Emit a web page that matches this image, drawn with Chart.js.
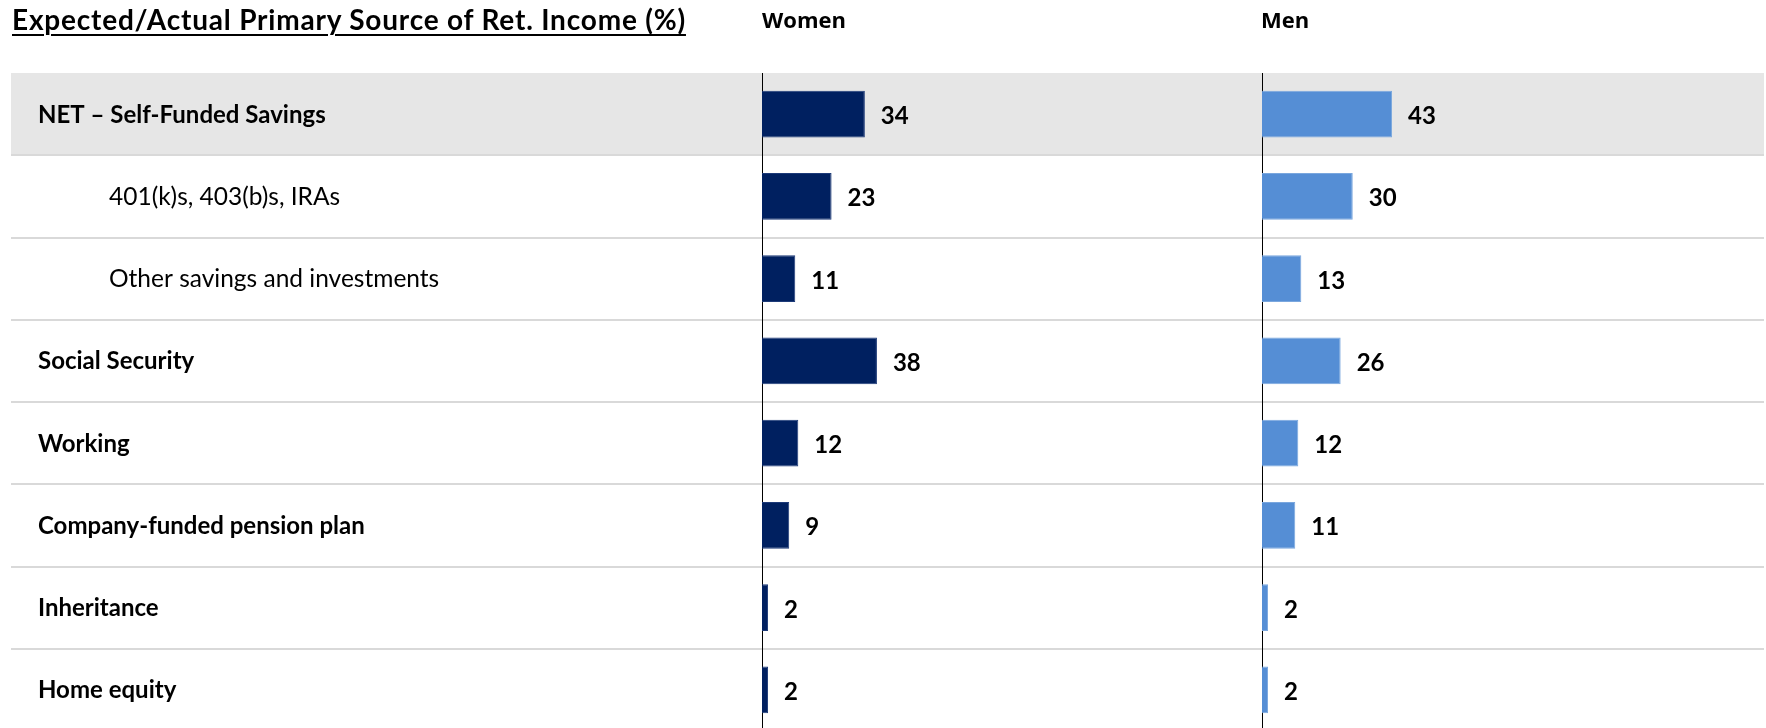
<!DOCTYPE html>
<html>
<head>
<meta charset="utf-8">
<title>Expected/Actual Primary Source of Ret. Income</title>
<script src="https://cdn.jsdelivr.net/npm/chart.js@4.4.1/dist/chart.umd.min.js"></script>
<style>
  html, body { margin: 0; padding: 0; background: #fff; }
  #wrap { position: relative; width: 1766px; height: 728px; overflow: hidden; }
  #chart { position: absolute; left: 0; top: 0; }
  .hdr { position: absolute; color: #000; font-weight: bold; white-space: nowrap; line-height: 1; }
  #title { left: 12px; top: 5px; font-family: Lato, sans-serif; font-size: 28px; letter-spacing: 0.8px;
           text-decoration: underline; text-decoration-thickness: 2px; text-underline-offset: 4px; }
  #women { left: 762px; top: 8px; font-family: "Open Sans", sans-serif; font-size: 22px; }
  #men { left: 1261px; top: 8px; font-family: "Open Sans", sans-serif; font-size: 22px; }
</style>
</head>
<body>
<div id="wrap">
  <canvas id="chart" width="1766" height="731"></canvas>
  <div class="hdr" id="title">Expected/Actual Primary Source of Ret. Income (%)</div>
  <div class="hdr" id="women">Women</div>
  <div class="hdr" id="men">Men</div>
</div>
<script>
'use strict';

// categories, top to bottom
var categories = [
  'NET – Self-Funded Savings',
  '401(k)s, 403(b)s, IRAs',
  'Other savings and investments',
  'Social Security',
  'Working',
  'Company-funded pension plan',
  'Inheritance',
  'Home equity'
];
// sub rows are indented and not bold
var subRows = [false, true, true, false, false, false, false, false];

var womenValues = [34, 23, 11, 38, 12, 9, 2, 2];
var menValues = [43, 30, 13, 26, 12, 11, 2, 2];

var FONT = 'Lato, sans-serif';

/* row bands, separators, zero lines, row labels and value labels */
var rowDecor = {
  id: 'rowDecor',
  beforeDatasetsDraw: function (chart) {
    var ctx = chart.ctx;
    var area = chart.chartArea;
    var y = chart.scales.y;
    var half = (y.getPixelForValue(1) - y.getPixelForValue(0)) / 2;
    var left = 11;

    ctx.save();
    // grey band behind the NET row
    ctx.fillStyle = '#e6e6e6';
    ctx.fillRect(left, y.getPixelForValue(0) - half, area.right - left, half * 2);

    // separators between rows
    ctx.strokeStyle = '#d9d9d9';
    ctx.lineWidth = 2;
    for (var i = 0; i < categories.length - 1; i++) {
      var yy = Math.round(y.getPixelForValue(i) + half);
      ctx.beginPath();
      ctx.moveTo(left, yy);
      ctx.lineTo(area.right, yy);
      ctx.stroke();
    }

    // zero lines of both panels
    ctx.strokeStyle = '#000';
    ctx.lineWidth = 1;
    ['xW', 'xM'].forEach(function (id) {
      var x0 = Math.round(chart.scales[id].getPixelForValue(0)) + 0.5;
      ctx.beginPath();
      ctx.moveTo(x0, area.top);
      ctx.lineTo(x0, area.bottom);
      ctx.stroke();
    });

    // row labels
    ctx.fillStyle = '#000';
    ctx.textAlign = 'left';
    ctx.textBaseline = 'alphabetic';
    categories.forEach(function (label, i) {
      ctx.font = subRows[i] ? 'normal 24.5px ' + FONT : 'bold 24px ' + FONT;
      ctx.fillText(label, subRows[i] ? 109 : 38, y.getPixelForValue(i) + 8.5);
    });
    ctx.restore();
  },
  afterDatasetsDraw: function (chart) {
    var ctx = chart.ctx;
    ctx.save();
    ctx.fillStyle = '#000';
    ctx.font = 'bold 24px ' + FONT;
    ctx.textAlign = 'left';
    ctx.textBaseline = 'alphabetic';
    chart.data.datasets.forEach(function (ds, d) {
      chart.getDatasetMeta(d).data.forEach(function (bar, i) {
        ctx.fillText(String(ds.data[i]), bar.x + 16, bar.y + 10);
      });
    });
    ctx.restore();
  }
};

var ctx = document.getElementById('chart').getContext('2d');
var chart = new Chart(ctx, {
  type: 'bar',
  data: {
    labels: categories,
    datasets: [{
      label: 'Women',
      data: womenValues,
      xAxisID: 'xW',
      backgroundColor: '#002060',
      borderColor: '#1d3a78',
      borderWidth: 1,
      grouped: false,
      categoryPercentage: 1,
      barPercentage: 0.568
    }, {
      label: 'Men',
      data: menValues,
      xAxisID: 'xM',
      backgroundColor: '#558ed5',
      borderColor: '#7aa7de',
      borderWidth: 1,
      grouped: false,
      categoryPercentage: 1,
      barPercentage: 0.568
    }]
  },
  options: {
    indexAxis: 'y',
    responsive: false,
    maintainAspectRatio: false,
    animation: false,
    layout: { padding: { left: 762, right: 2, top: 73, bottom: 0 } },
    plugins: {
      legend: { display: false },
      tooltip: { enabled: false }
    },
    scales: {
      y: { display: false },
      // same px-per-point in both panels, Men panel zero sits 500px right
      xW: { type: 'linear', display: false, min: 0, max: 331.24 },
      xM: { type: 'linear', display: false, min: -165.29, max: 165.95 }
    }
  },
  plugins: [rowDecor]
});
</script>
</body>
</html>
